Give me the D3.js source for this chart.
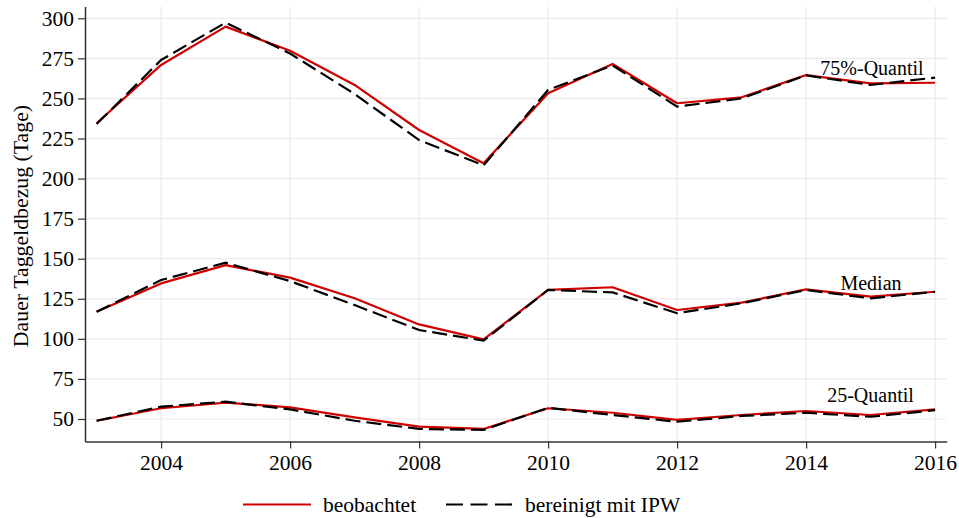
<!DOCTYPE html>
<html>
<head>
<meta charset="utf-8">
<script src="https://cdn.jsdelivr.net/npm/d3@7"></script>
<style>
html,body{margin:0;padding:0;background:#fff;}
svg{display:block;}
text{font-family:"Liberation Serif","Times New Roman",serif !important;fill:#000;}
</style>
</head>
<body>
<svg id="chart" width="959" height="518"></svg>
<script>
const years = [2003,2004,2005,2006,2007,2008,2009,2010,2011,2012,2013,2014,2015,2016];

const q75Observed = [234.5,270.9,294.8,279.8,258.4,230.3,209.5,253.2,271.5,247.0,250.7,264.6,259.4,259.8];
const q75IPW      = [234.0,274.0,297.3,278.0,252.8,224.0,208.3,255.3,270.6,244.9,250.0,264.4,258.4,263.0];

const medObserved = [116.9,134.6,146.0,138.2,125.3,109.0,99.7,130.5,132.2,118.0,122.6,130.9,126.3,129.4];
const medIPW      = [116.9,136.7,147.5,136.0,121.1,105.5,98.9,130.5,129.0,116.0,122.2,130.5,125.3,129.4];

const q25Observed = [48.9,56.7,60.2,57.3,51.0,45.2,43.8,56.7,53.9,49.4,52.5,55.0,52.5,56.0];
const q25IPW      = [48.9,57.7,60.8,56.0,48.9,43.8,43.2,57.0,52.5,48.3,51.9,53.9,51.4,55.5];

const xTicks = [2004,2006,2008,2010,2012,2014,2016];
const yTicks = [50,75,100,125,150,175,200,225,250,275,300];

const seriesLabels = ["75%-Quantil","Median","25-Quantil"];
const legendLabels = ["beobachtet","bereinigt mit IPW"];
const yTitle = "Dauer Taggeldbezug (Tage)";

(function () {
const svg = d3.select("#chart");
const pL = 85, pR = 946.7, pT = 6.5, pB = 441.5;

const x = d3.scaleLinear().domain([2002.82, 2016.18]).range([pL, pR]);
const y = d3.scaleLinear().domain([35.96, 307.36]).range([pB, pT]);

// grid
const grid = svg.append("g");
grid.selectAll("line.h").data(yTicks).enter().append("line").attr("class", "h")
  .attr("x1", pL).attr("x2", pR)
  .attr("y1", d => y(d)).attr("y2", d => y(d))
  .attr("stroke", "#ebebeb").attr("stroke-width", 1.2);
grid.selectAll("line.v").data(xTicks).enter().append("line").attr("class", "v")
  .attr("y1", pT).attr("y2", pB)
  .attr("x1", d => x(d)).attr("x2", d => x(d))
  .attr("stroke", "#ebebeb").attr("stroke-width", 1.2);

// axes
const xAxis = svg.append("g").attr("transform", `translate(0,${pB})`)
  .call(d3.axisBottom(x).tickValues(xTicks).tickFormat(d3.format("d")).tickSize(7).tickSizeOuter(0).tickPadding(6));
const yAxis = svg.append("g").attr("transform", `translate(${pL},0)`)
  .call(d3.axisLeft(y).tickValues(yTicks).tickSize(7).tickSizeOuter(0).tickPadding(4));
[xAxis, yAxis].forEach(a => {
  a.attr("font-family", null).attr("font-size", null);
  a.select(".domain").attr("stroke", "#333").attr("stroke-width", 1.5);
  a.selectAll(".tick line").attr("stroke", "#333").attr("stroke-width", 1.2);
  a.selectAll(".tick text").attr("font-size", 21.5).attr("fill", "#000");
});

// lines
const line = d3.line().x((d, i) => x(years[i])).y(d => y(d));
const pairs = [[q75Observed, q75IPW], [medObserved, medIPW], [q25Observed, q25IPW]];
const g = svg.append("g");
pairs.forEach(([obs, ipw]) => {
  g.append("path").datum(obs).attr("d", line)
    .attr("fill", "none").attr("stroke", "#d10000").attr("stroke-width", 2.2)
    .attr("stroke-linejoin", "round");
  g.append("path").datum(ipw).attr("d", line)
    .attr("fill", "none").attr("stroke", "#000").attr("stroke-width", 2.2)
    .attr("stroke-dasharray", "15,6");
});

// series labels
const labelPos = [[872, 75], [871, 290], [870.5, 401.7]];
seriesLabels.forEach((t, i) => {
  svg.append("text").attr("x", labelPos[i][0]).attr("y", labelPos[i][1])
    .attr("text-anchor", "middle").attr("font-size", 20).text(t);
});

// y title
svg.append("text")
  .attr("transform", "translate(28,226) rotate(-90)")
  .attr("text-anchor", "middle").attr("font-size", 21.8).text(yTitle);

// legend
const lg = svg.append("g");
lg.append("line").attr("x1", 243).attr("x2", 311).attr("y1", 504.5).attr("y2", 504.5)
  .attr("stroke", "#d10000").attr("stroke-width", 2.2);
lg.append("text").attr("x", 323).attr("y", 512).attr("font-size", 21.5).text(legendLabels[0]);
lg.append("line").attr("x1", 446).attr("x2", 512).attr("y1", 504.5).attr("y2", 504.5)
  .attr("stroke", "#000").attr("stroke-width", 2.2).attr("stroke-dasharray", "17,7.5");
lg.append("text").attr("x", 525).attr("y", 512).attr("font-size", 21.5).text(legendLabels[1]);
})();
</script>
</body>
</html>
